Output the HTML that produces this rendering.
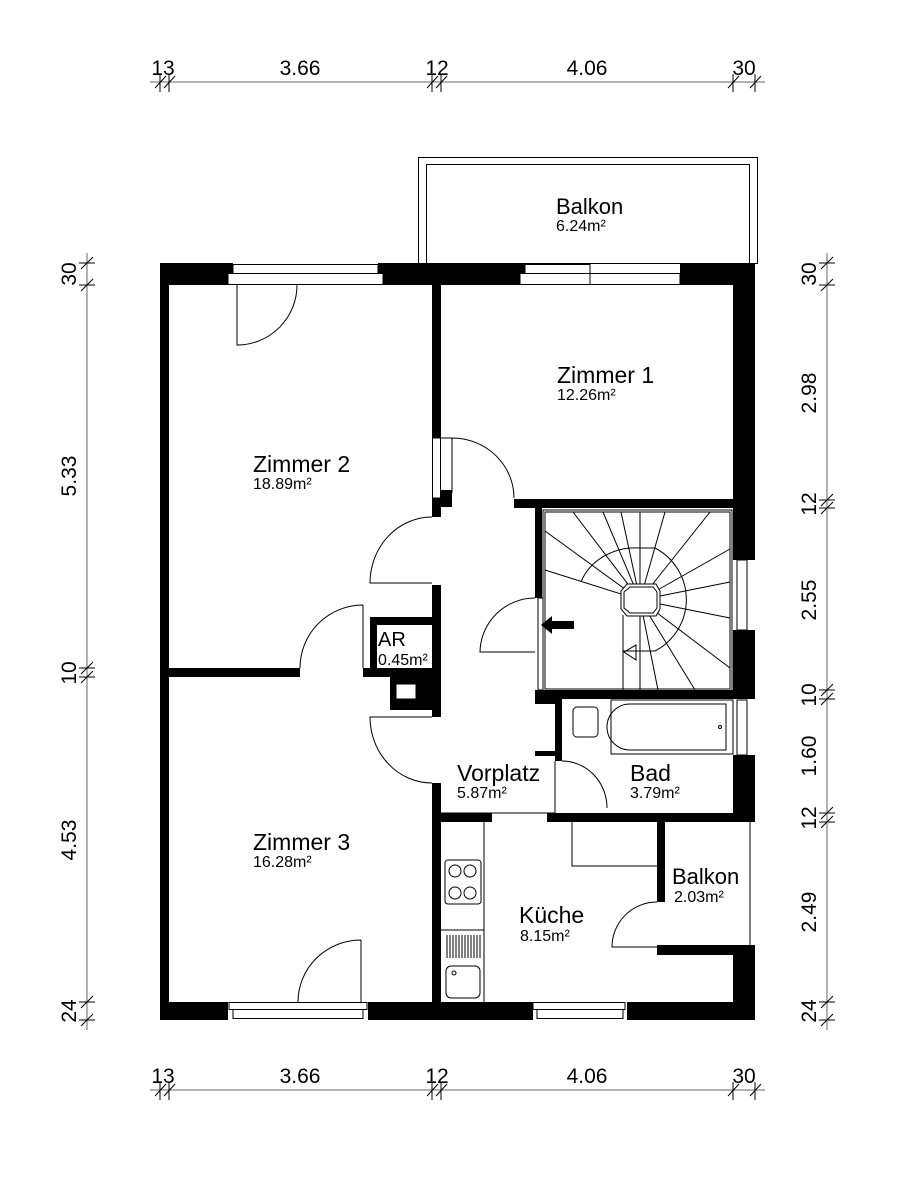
<!DOCTYPE html>
<html><head><meta charset="utf-8"><style>
html,body{margin:0;padding:0;background:#fff}
svg{display:block}
text{font-family:"Liberation Sans",Arial,sans-serif;fill:#000}
</style></head><body>
<svg width="914" height="1186" viewBox="0 0 914 1186" xmlns="http://www.w3.org/2000/svg">
<g stroke="#000" stroke-width="1" fill="none">
<line x1="150" y1="82" x2="765" y2="82" stroke="#666"/>
<line x1="150" y1="1090" x2="765" y2="1090" stroke="#666"/>
<line x1="87" y1="253" x2="87" y2="1030" stroke="#666"/>
<line x1="827" y1="253" x2="827" y2="1030" stroke="#666"/>
</g>
<g stroke="#000" stroke-width="1">
<g id="tt">
<line x1="160" y1="74" x2="160" y2="92"/><line x1="155" y1="88" x2="166" y2="76"/>
<line x1="169" y1="74" x2="169" y2="92"/><line x1="164" y1="88" x2="175" y2="76"/>
<line x1="432" y1="74" x2="432" y2="92"/><line x1="427" y1="88" x2="438" y2="76"/>
<line x1="441" y1="74" x2="441" y2="92"/><line x1="436" y1="88" x2="447" y2="76"/>
<line x1="733" y1="74" x2="733" y2="92"/><line x1="728" y1="88" x2="739" y2="76"/>
<line x1="755" y1="74" x2="755" y2="92"/><line x1="750" y1="88" x2="761" y2="76"/>
</g>
<use href="#tt" transform="translate(0,1008)"/>
<g>
<line x1="79" y1="263" x2="95" y2="263"/><line x1="81" y1="269" x2="93" y2="257"/>
<line x1="79" y1="285" x2="95" y2="285"/><line x1="81" y1="291" x2="93" y2="279"/>
<line x1="79" y1="668" x2="95" y2="668"/><line x1="81" y1="674" x2="93" y2="662"/>
<line x1="79" y1="677" x2="95" y2="677"/><line x1="81" y1="683" x2="93" y2="671"/>
<line x1="79" y1="1002" x2="95" y2="1002"/><line x1="81" y1="1008" x2="93" y2="996"/>
<line x1="79" y1="1020" x2="95" y2="1020"/><line x1="81" y1="1026" x2="93" y2="1014"/>
</g>
<g>
<line x1="819" y1="263" x2="835" y2="263"/><line x1="821" y1="269" x2="833" y2="257"/>
<line x1="819" y1="285" x2="835" y2="285"/><line x1="821" y1="291" x2="833" y2="279"/>
<line x1="819" y1="500" x2="835" y2="500"/><line x1="821" y1="506" x2="833" y2="494"/>
<line x1="819" y1="508" x2="835" y2="508"/><line x1="821" y1="514" x2="833" y2="502"/>
<line x1="819" y1="690" x2="835" y2="690"/><line x1="821" y1="696" x2="833" y2="684"/>
<line x1="819" y1="699" x2="835" y2="699"/><line x1="821" y1="705" x2="833" y2="693"/>
<line x1="819" y1="813" x2="835" y2="813"/><line x1="821" y1="819" x2="833" y2="807"/>
<line x1="819" y1="822" x2="835" y2="822"/><line x1="821" y1="828" x2="833" y2="816"/>
<line x1="819" y1="1002" x2="835" y2="1002"/><line x1="821" y1="1008" x2="833" y2="996"/>
<line x1="819" y1="1020" x2="835" y2="1020"/><line x1="821" y1="1026" x2="833" y2="1014"/>
</g>
</g>
<g font-size="21">
<text x="163" y="75" text-anchor="middle">13</text>
<text x="300" y="75" text-anchor="middle">3.66</text>
<text x="437" y="75" text-anchor="middle">12</text>
<text x="587" y="75" text-anchor="middle">4.06</text>
<text x="744" y="75" text-anchor="middle">30</text>
<text x="163" y="1083" text-anchor="middle">13</text>
<text x="300" y="1083" text-anchor="middle">3.66</text>
<text x="437" y="1083" text-anchor="middle">12</text>
<text x="587" y="1083" text-anchor="middle">4.06</text>
<text x="744" y="1083" text-anchor="middle">30</text>
<g transform="translate(76,0)">
<text transform="translate(0,274) rotate(-90)" text-anchor="middle">30</text>
<text transform="translate(0,476) rotate(-90)" text-anchor="middle">5.33</text>
<text transform="translate(0,673) rotate(-90)" text-anchor="middle">10</text>
<text transform="translate(0,840) rotate(-90)" text-anchor="middle">4.53</text>
<text transform="translate(0,1011) rotate(-90)" text-anchor="middle">24</text>
</g>
<g transform="translate(816,0)">
<text transform="translate(0,274) rotate(-90)" text-anchor="middle">30</text>
<text transform="translate(0,393) rotate(-90)" text-anchor="middle">2.98</text>
<text transform="translate(0,504) rotate(-90)" text-anchor="middle">12</text>
<text transform="translate(0,600) rotate(-90)" text-anchor="middle">2.55</text>
<text transform="translate(0,695) rotate(-90)" text-anchor="middle">10</text>
<text transform="translate(0,756) rotate(-90)" text-anchor="middle">1.60</text>
<text transform="translate(0,818) rotate(-90)" text-anchor="middle">12</text>
<text transform="translate(0,912) rotate(-90)" text-anchor="middle">2.49</text>
<text transform="translate(0,1011) rotate(-90)" text-anchor="middle">24</text>
</g>
</g>
<rect x="418.5" y="157.5" width="339" height="106" fill="none" stroke="#000"/>
<rect x="426.5" y="164.5" width="323" height="99" fill="none" stroke="#000"/>
<g fill="#000">
<rect x="160" y="263" width="73" height="22"/>
<rect x="378" y="263" width="147" height="22"/>
<rect x="680" y="263" width="75" height="22"/>
<rect x="160" y="263" width="9" height="757"/>
<rect x="160" y="1002" width="68" height="18"/>
<rect x="368" y="1002" width="165" height="18"/>
<rect x="627" y="1002" width="128" height="18"/>
<rect x="733" y="263" width="22" height="297"/>
<rect x="733" y="630" width="22" height="69"/>
<rect x="733" y="755" width="22" height="67"/>
<rect x="733" y="945" width="22" height="75"/>
<rect x="432" y="285" width="9" height="153"/>
<rect x="432" y="498" width="9" height="19"/>
<rect x="432" y="585" width="9" height="32"/>
<rect x="432" y="617" width="9" height="100"/>
<rect x="432" y="783" width="9" height="219"/>
<rect x="514" y="499" width="241" height="9"/>
<rect x="432" y="490" width="20" height="17"/>
<rect x="535" y="508" width="7" height="90"/>
<rect x="535" y="690" width="198" height="9"/>
<rect x="169" y="668" width="131" height="9"/>
<rect x="363" y="668" width="69" height="9"/>
<rect x="370" y="617" width="62" height="8"/>
<rect x="370" y="617" width="7" height="51"/>
<rect x="390" y="677" width="42" height="33"/>
<rect x="555" y="699" width="7" height="62"/>
<rect x="535" y="699" width="20" height="5"/>
<rect x="535" y="751" width="20" height="5"/>
<rect x="432" y="813" width="60" height="9"/>
<rect x="547" y="813" width="208" height="9"/>
<rect x="657" y="822" width="8" height="80"/>
<rect x="657" y="945" width="98" height="10"/>
</g>
<g fill="#fff" stroke="#000">
<rect x="233" y="264.5" width="145" height="9"/>
<rect x="228" y="273.5" width="155" height="11"/>
<rect x="525" y="264.5" width="65" height="9"/>
<rect x="520" y="273.5" width="70" height="11"/>
<rect x="590" y="273.5" width="90" height="11"/>
<rect x="396" y="684" width="20" height="15"/>
<rect x="229" y="1002.5" width="138" height="7"/>
<rect x="233" y="1009.5" width="130" height="9"/>
<rect x="533" y="1002.5" width="92" height="7"/>
<rect x="537" y="1009.5" width="86" height="9"/>
<rect x="737" y="560" width="10" height="70"/>
<rect x="737" y="700" width="10" height="55"/>
<rect x="538" y="598" width="5" height="92"/>
<rect x="432.5" y="438" width="8" height="60"/>
</g>
<g stroke="#000" fill="none" stroke-width="1">
<line x1="750" y1="822" x2="750" y2="945"/>
<path d="M237 285 V345 A60 60 0 0 0 297 285"/>
<path d="M452 438 V493 M452 438 A62 60 0 0 1 514 498"/>
<path d="M441 438 H452"/>
<path d="M432 517 A62 66 0 0 0 370 583 H432"/>
<path d="M363 605 V668 M363 605 A63 63 0 0 0 300 668"/>
<path d="M432 717 H370 A62 66 0 0 0 432 783"/>
<path d="M361 940 V1002 M361 940 A63 62 0 0 0 298 1002"/>
<path d="M535 598 A55 55 0 0 0 480 652 H535"/>
<path d="M562 761 A45 47 0 0 1 607 808"/>
<path d="M657 902 A45 45 0 0 0 612 947 H657"/>
<line x1="441" y1="813" x2="555" y2="813"/>
<line x1="555" y1="761" x2="555" y2="813"/>
<line x1="484" y1="822" x2="484" y2="1002"/>
<line x1="441" y1="930" x2="484" y2="930"/>
<rect x="445" y="860" width="36" height="44" rx="3"/>
<circle cx="455" cy="871" r="6"/><circle cx="470" cy="871" r="6"/>
<circle cx="455" cy="893" r="6"/><circle cx="470" cy="893" r="6"/>
<path d="M447 935 V958 M450 935 V958 M453 935 V958 M456 935 V958 M459 935 V958 M462 935 V958 M465 935 V958 M468 935 V958 M471 935 V958 M474 935 V958 M477 935 V958 M480 935 V958"/>
<rect x="446" y="966" width="34" height="32" rx="5"/>
<circle cx="454" cy="973" r="2"/>
<polyline points="572,822 572,866 657,866"/>
<rect x="573" y="707" width="25" height="30" rx="4"/>
<rect x="611" y="700" width="122" height="54"/>
<path d="M630 704 H726 V750 H630 A23 23 0 0 1 630 704 Z"/>
<circle cx="720" cy="727" r="1.5"/>
<rect x="543" y="510" width="189" height="181"/>
<rect x="545" y="512" width="185" height="177"/>
<path d="M640 600 L573 512 M640 600 L603 512 M640 600 L621 512 M640 600 L640 512 M640 600 L665 512 M640 600 L710 512 M640 600 L545 531 M640 600 L545 570 M640 600 L730 549 M640 600 L730 582 M640 600 L730 618 M640 600 L730 668 M640 600 L640 690 M640 600 L658 690 M640 600 L695 690"/>
<line x1="623" y1="615" x2="623" y2="690"/>
<path d="M581 582 A58 52 0 0 1 640 548 H655 A58 58 0 0 1 655 651 H623" />
<path d="M627 584 H656 L660 591 V609 L656 616 H627 L621 609 V591 Z" fill="#fff"/>
<path d="M630 587 H653 L657 592 V608 L653 613 H630 L624 608 V592 Z"/>
<path d="M624 652 L636 645 L636 660 Z"/>
</g>
<path d="M541 625 L552 616 V621 H574 V629 H552 V634 Z" fill="#000"/>
<g>
<text x="556" y="214" font-size="22">Balkon</text>
<text x="556" y="231" font-size="16">6.24m²</text>
<text x="557" y="383" font-size="23">Zimmer 1</text>
<text x="557" y="400" font-size="16">12.26m²</text>
<text x="253" y="472" font-size="23">Zimmer 2</text>
<text x="253" y="489" font-size="16">18.89m²</text>
<text x="378" y="646" font-size="20">AR</text>
<text x="378" y="665" font-size="16">0.45m²</text>
<text x="457" y="781" font-size="23">Vorplatz</text>
<text x="457" y="798" font-size="16">5.87m²</text>
<text x="630" y="781" font-size="23">Bad</text>
<text x="630" y="798" font-size="16">3.79m²</text>
<text x="253" y="850" font-size="23">Zimmer 3</text>
<text x="253" y="867" font-size="16">16.28m²</text>
<text x="672" y="884" font-size="22">Balkon</text>
<text x="674" y="902" font-size="16">2.03m²</text>
<text x="519" y="923" font-size="23">Küche</text>
<text x="520" y="941" font-size="16">8.15m²</text>
</g>
</svg>
</body></html>
